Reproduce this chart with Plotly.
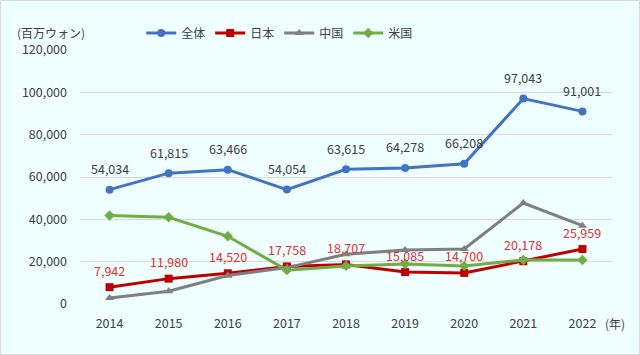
import plotly.graph_objects as go

years = [2014, 2015, 2016, 2017, 2018, 2019, 2020, 2021, 2022]
total = [54034, 61815, 63466, 54054, 63615, 64278, 66208, 97043, 91001]
japan = [7942, 11980, 14520, 17758, 18707, 15085, 14700, 20178, 25959]
china = [2800, 6000, 13500, 17200, 23500, 25500, 26000, 47700, 37000]
usa = [41800, 41000, 32000, 16000, 18000, 18900, 18000, 20800, 20800]
y_ticks = [0, 20000, 40000, 60000, 80000, 100000, 120000]

FONT = "Noto Sans CJK JP, Noto Sans, sans-serif"
BLUE = "#4472C4"
RED = "#C00000"
GRAY = "#7F7F7F"
GREEN = "#70AD47"

fig = go.Figure()
fig.add_trace(go.Scatter(x=years, y=total, name="全体", mode="lines+markers",
                         line=dict(color=BLUE, width=3), marker=dict(symbol="circle", size=8, color=BLUE)))
fig.add_trace(go.Scatter(x=years, y=japan, name="日本", mode="lines+markers",
                         line=dict(color=RED, width=3), marker=dict(symbol="square", size=8, color=RED)))
fig.add_trace(go.Scatter(x=years, y=china, name="中国", mode="lines+markers",
                         line=dict(color=GRAY, width=3), marker=dict(symbol="triangle-up", size=8, color=GRAY)))
fig.add_trace(go.Scatter(x=years, y=usa, name="米国", mode="lines+markers",
                         line=dict(color=GREEN, width=3), marker=dict(symbol="diamond", size=8, color=GREEN)))

annotations = []
for x, v in zip(years, total):
    annotations.append(dict(x=x, y=v, xref="x", yref="y", text=f"{v:,}", showarrow=False, yshift=21,
                            font=dict(family=FONT, size=12.5, color="#404040")))
for x, v in zip(years, japan):
    annotations.append(dict(x=x, y=v, xref="x", yref="y", text=f"{v:,}", showarrow=False, yshift=17,
                            font=dict(family=FONT, size=12.5, color="#E03030")))

annotations.append(dict(xref="paper", yref="paper", x=-0.122, y=1.067, xanchor="left", yanchor="middle",
                        text="(百万ウォン)", showarrow=False, font=dict(family=FONT, size=12, color="#404040")))
annotations.append(dict(xref="paper", yref="paper", x=1.005, y=-0.075, xanchor="center", yanchor="middle",
                        text="(年)", showarrow=False, font=dict(family=FONT, size=12, color="#404040")))

fig.update_layout(
    width=640, height=355,
    margin=dict(l=80, r=28, t=50, b=51),
    paper_bgcolor="#EFFEFF",
    plot_bgcolor="#EFFEFF",
    font=dict(family=FONT, size=12, color="#404040"),
    showlegend=True,
    legend=dict(orientation="h", x=0.115, y=1.067, xanchor="left", yanchor="middle",
                bgcolor="rgba(0,0,0,0)", font=dict(family=FONT, size=12, color="#404040"),
                itemwidth=30, tracegroupgap=0),
    annotations=annotations,
    shapes=[dict(type="rect", xref="paper", yref="paper",
                 x0=-79.5 / 532, x1=559.5 / 532, y0=-50.5 / 254, y1=1 + 49.5 / 254,
                 line=dict(color="#D9D9D9", width=1), fillcolor="rgba(0,0,0,0)", layer="below")],
)
fig.update_xaxes(range=[2013.5, 2022.5], tickvals=years, tickformat="d", showgrid=False,
                 showline=False, zeroline=False, ticks="", ticklabelstandoff=10,
                 tickfont=dict(family=FONT, size=12.5, color="#404040"))
fig.update_yaxes(range=[0, 120000], tickvals=y_ticks, tickformat=",d", showgrid=True,
                 gridcolor="#D9D9D9", gridwidth=1, zeroline=False, showline=False,
                 ticks="", ticklabelstandoff=12, tickfont=dict(family=FONT, size=12.5, color="#404040"))

fig.write_html("out.html", config={"displayModeBar": False},
               post_script="document.body.style.margin='0';document.body.style.padding='0';")
